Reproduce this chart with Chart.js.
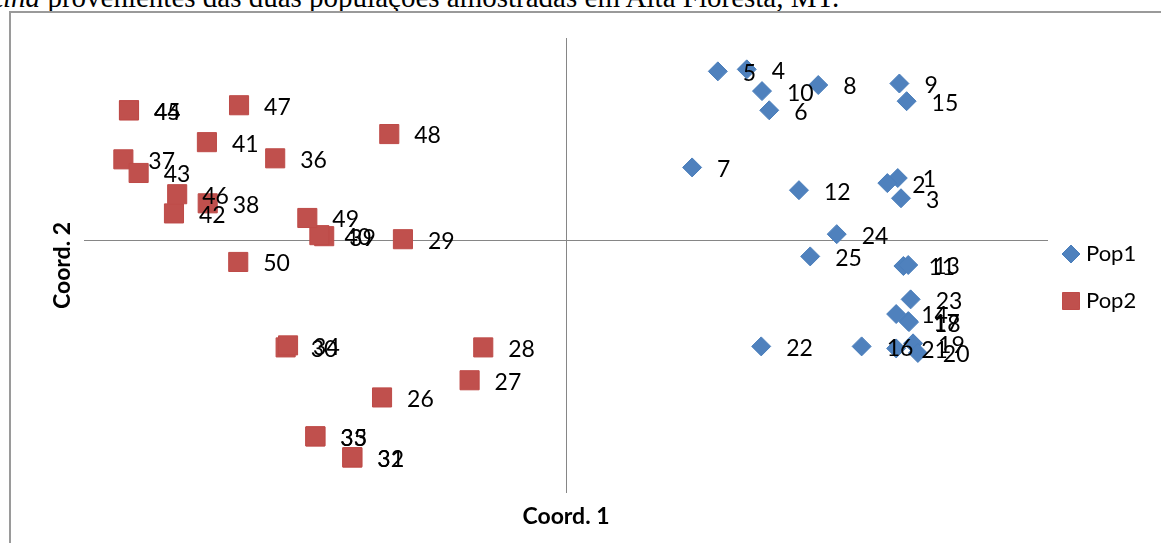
<!DOCTYPE html>
<html>
<head>
<meta charset="utf-8">
<script src="https://cdn.jsdelivr.net/npm/chart.js@4.4.1/dist/chart.umd.min.js"></script>
<style>
  html, body { margin: 0; padding: 0; background: #fff; overflow: hidden; }
  #wrap { position: relative; width: 1161px; height: 543px; overflow: hidden; background: #fff; }
  #caption {
    position: absolute; left: -5px; top: -17px;
    font: 29px/29px "Liberation Serif", "Times New Roman", serif;
    white-space: nowrap; color: #000;
  }
  #frame {
    position: absolute; left: 9px; top: 11px; width: 1200px; height: 600px;
    border-left: 2px solid #9a9a9a; border-top: 2px solid #9a9a9a;
  }
  #chart { position: absolute; left: 0; top: 0; }
</style>
</head>
<body>
<div id="wrap">
  <div id="caption"><i>tina</i> provenientes das duas populações amostradas em Alta Floresta, MT.</div>
  <div id="frame"></div>
  <canvas id="chart" width="1161" height="543"></canvas>
</div>
<script>
// Principal coordinates of the individuals, one pair of arrays per population
const seriesNames = ['Pop1', 'Pop2'];
const axisTitleX = 'Coord. 1';
const axisTitleY = 'Coord. 2';

const pop1Labels = ['1','2','3','4','5','6','7','8','9','10','11','12','13',
                    '14','15','16','17','18','19','20','21','22','23','24','25'];
const pop1X = [0.413, 0.400, 0.417, 0.225, 0.189, 0.253, 0.157, 0.314, 0.415, 0.244, 0.420, 0.290, 0.426,
               0.411, 0.424, 0.368, 0.426, 0.427, 0.432, 0.438, 0.411, 0.243, 0.429, 0.337, 0.304];
const pop1Y = [0.123, 0.113, 0.083, 0.338, 0.334, 0.257, 0.144, 0.307, 0.310, 0.295, -0.051, 0.099, -0.049,
               -0.146, 0.275, -0.210, -0.160, -0.162, -0.204, -0.223, -0.214, -0.210, -0.117, 0.012, -0.032];

const pop2Labels = ['26','27','28','29','30','31','32','33','34','35','36','37','38',
                    '39','40','41','42','43','44','45','46','47','48','49','50'];
const pop2X = [-0.229, -0.120, -0.103, -0.203, -0.349, -0.266, -0.266, -0.312, -0.346, -0.312, -0.362, -0.551, -0.446,
               -0.301, -0.307, -0.447, -0.488, -0.532, -0.544, -0.544, -0.484, -0.407, -0.220, -0.322, -0.408];
const pop2Y = [-0.311, -0.277, -0.212, 0.002, -0.212, -0.430, -0.429, -0.388, -0.208, -0.388, 0.162, 0.160, 0.073,
               0.008, 0.010, 0.194, 0.053, 0.133, 0.257, 0.257, 0.091, 0.267, 0.210, 0.044, -0.043];

const blueFill = '#4F81BD', blueEdge = '#4A7EBB';
const redFill = '#C0504D', redEdge = '#BE4B48';

function toPoints(xs, ys) { return xs.map((x, i) => ({ x: x, y: ys[i] })); }

// Small icons for the legend entries
function legendIcon(kind, fill, edge) {
  const c = document.createElement('canvas');
  c.width = 26; c.height = 20;
  const g = c.getContext('2d');
  const cx = 10, cy = 10;
  g.fillStyle = fill; g.strokeStyle = edge; g.lineWidth = 1;
  g.beginPath();
  if (kind === 'diamond') {
    const r = 9;
    g.moveTo(cx - r, cy); g.lineTo(cx, cy - r); g.lineTo(cx + r, cy); g.lineTo(cx, cy + r);
    g.closePath();
  } else {
    g.rect(cx - 8.5, cy - 8.5, 17, 17);
  }
  g.fill(); g.stroke();
  return c;
}
const legendIcons = [legendIcon('diamond', blueFill, blueEdge), legendIcon('square', redFill, redEdge)];

// Number written to the right of every marker
const labelSets = [pop1Labels, pop2Labels];
const pointLabels = {
  id: 'pointLabels',
  afterDatasetsDraw(chart) {
    const ctx = chart.ctx;
    ctx.save();
    ctx.font = '23px Lato, "Open Sans", sans-serif';
    ctx.fillStyle = '#000';
    ctx.textAlign = 'left';
    ctx.textBaseline = 'middle';
    chart.data.datasets.forEach((ds, d) => {
      const meta = chart.getDatasetMeta(d);
      meta.data.forEach((el, i) => {
        ctx.fillText(labelSets[d][i], el.x + 25, el.y + 2);
      });
    });
    ctx.restore();
  }
};

// Give the legend column a fixed width so the plot keeps its right edge
const LEGEND_WIDTH = 113;
const legendWidth = {
  id: 'legendWidth',
  afterInit(chart) {
    const lg = chart.legend;
    if (!lg) return;
    const fit = lg.fit;
    lg.fit = function () { fit.call(this); this.width = LEGEND_WIDTH; };
  }
};

const zeroLine = (c) => (Math.abs(c.tick.value) < 1e-9 ? '#868686' : 'rgba(0,0,0,0)');

function build() {
  new Chart(document.getElementById('chart'), {
    type: 'scatter',
    data: {
      datasets: [
        {
          label: seriesNames[0],
          data: toPoints(pop1X, pop1Y),
          pointStyle: 'rectRot',
          pointRadius: 9.5,
          backgroundColor: blueFill,
          borderColor: blueEdge,
          borderWidth: 1
        },
        {
          label: seriesNames[1],
          data: toPoints(pop2X, pop2Y),
          pointStyle: 'rect',
          pointRadius: 13.5,
          backgroundColor: redFill,
          borderColor: redEdge,
          borderWidth: 1
        }
      ]
    },
    options: {
      responsive: false,
      animation: false,
      events: [],
      layout: { padding: { top: 38, right: 0, bottom: 0, left: 0 } },
      scales: {
        x: {
          type: 'linear',
          min: -0.6, max: 0.6,
          ticks: { display: false, stepSize: 0.2 },
          grid: { color: zeroLine, lineWidth: 1, drawTicks: false },
          border: { display: false },
          title: {
            display: true, text: axisTitleX, color: '#000',
            font: { family: 'Lato', size: 23, weight: 'bold' },
            padding: { top: 0, bottom: 13 }
          },
          afterFit(scale) { scale.height = 50; }
        },
        y: {
          type: 'linear',
          min: -0.5, max: 0.4,
          ticks: { display: false, stepSize: 0.1 },
          grid: { color: zeroLine, lineWidth: 1, drawTicks: false },
          border: { display: false },
          title: {
            display: true, text: axisTitleY, color: '#000',
            font: { family: 'Lato', size: 23, weight: 'bold' },
            padding: { top: 49, bottom: 0 }
          },
          afterFit(scale) { scale.width = 84; }
        }
      },
      plugins: {
        tooltip: { enabled: false },
        legend: {
          position: 'right',
          fullSize: false,
          title: { display: true, text: ' ', padding: 0, font: { size: 20 } },
          labels: {
            usePointStyle: true,
            boxWidth: 2,
            padding: 25,
            color: '#000',
            font: { family: 'Lato', size: 22 },
            generateLabels(chart) {
              const items = Chart.defaults.plugins.legend.labels.generateLabels(chart);
              items.forEach((it, i) => { it.pointStyle = legendIcons[i]; });
              return items;
            }
          }
        }
      }
    },
    plugins: [legendWidth, pointLabels]
  });
}

if (document.fonts && document.fonts.load) {
  Promise.all([
    document.fonts.load('23px Lato'),
    document.fonts.load('bold 23px Lato'),
    document.fonts.load('29px "Liberation Serif"')
  ]).then(build, build);
} else {
  build();
}
</script>
</body>
</html>
